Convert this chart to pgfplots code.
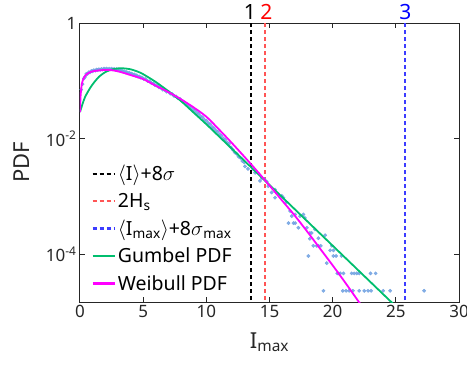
\documentclass[border=0pt]{standalone}
\usepackage{fontspec}
\setmainfont{Noto Sans}
\usepackage{pgfplots}
\pgfplotsset{compat=1.18}
\definecolor{dotblue}{RGB}{110,160,225}
\definecolor{gumbel}{RGB}{0,190,110}
\definecolor{weib}{RGB}{255,0,255}
\definecolor{axgray}{RGB}{38,38,38}
\definecolor{lred}{RGB}{255,85,85}
\definecolor{lblue}{RGB}{60,60,255}

\pgfplotstableread{
x y
0.1 7.079e-2
0.3 0.1096
0.5 0.1318
0.7 0.1413
0.9 0.1479
1.1 0.1531
1.3 0.1567
1.5 0.1585
1.7 0.1603
1.9 0.1622
2.1 0.1622
2.3 0.1622
2.5 0.1622
2.7 0.1603
2.9 0.1585
3.1 0.1549
3.3 0.1514
3.5 0.1462
3.7 0.1413
3.9 0.1380
4.1 0.1334
4.3 0.1288
4.5 0.1245
4.7 0.1189
4.9 0.1148
5.2 0.1072
5.5 9.772e-2
5.8 9.016e-2
6.1 8.222e-2
6.4 7.586e-2
6.7 6.918e-2
7.0 6.457e-2
7.3 5.888e-2
7.6 5.370e-2
7.9 4.898e-2
8.2 4.365e-2
8.5 3.890e-2
8.8 3.467e-2
9.1 3.090e-2
9.4 2.692e-2
9.7 2.344e-2
10.0 2.042e-2
10.3 1.778e-2
10.6 1.514e-2
10.9 1.318e-2
11.2 1.122e-2
11.5 9.550e-3
11.8 8.128e-3
12.1 6.457e-3
12.4 5.495e-3
12.7 4.677e-3
13.0 3.890e-3
0.2 0.088
0.4 0.117
0.6 0.132
0.8 0.140
1.0 0.146
1.2 0.150
1.4 0.153
1.6 0.155
1.8 0.157
2.0 0.158
2.2 0.158
2.4 0.158
2.6 0.157
2.8 0.155
3.0 0.152
3.2 0.149
3.4 0.145
3.6 0.140
3.8 0.136
4.0 0.132
4.2 0.128
4.4 0.123
4.6 0.118
4.8 0.114
5.05 0.108
5.35 0.0995
5.65 0.0915
5.95 0.0840
6.25 0.0770
6.55 0.0705
6.85 0.0650
7.15 0.0600
7.45 0.0548
7.75 0.0500
8.05 0.0451
8.35 0.0402
8.65 0.0358
8.95 0.0319
9.25 0.0281
9.55 0.0245
9.85 0.0213
10.15 0.0186
10.45 0.0160
10.75 0.0138
11.05 0.0119
11.35 0.0101
11.65 0.0086
11.95 0.0071
12.25 0.0058
12.55 0.0049
12.85 0.0041
13.06 3.311e-3
13.3 3.0e-3
13.72 2.951e-3
13.86 2.570e-3
14.25 1.862e-3
14.4 2.089e-3
14.6 1.995e-3
14.78 1.820e-3
14.9 1.514e-3
15.17 1.175e-3
15.44 1.318e-3
15.44 9.550e-4
15.7 1.096e-3
15.97 1.023e-3
16.1 9.550e-4
16.3 7.943e-4
16.63 5.623e-4
16.76 4.571e-4
17.03 4.898e-4
17.42 4.571e-4
17.68 4.898e-4
17.8 4.266e-4
16.5 3.467e-4
16.9 3.467e-4
17.03 3.467e-4
17.28 2.884e-4
17.95 2.884e-4
18.6 2.692e-4
18.2 2.344e-4
18.34 2.344e-4
18.87 1.905e-4
19.4 2.138e-4
18.2 1.862e-4
18.47 1.406e-4
18.74 1.406e-4
18.87 1.406e-4
19.06 1.406e-4
19.93 1.406e-4
19.8 1.172e-4
20.06 1.172e-4
18.08 9.38e-5
20.06 9.38e-5
20.27 9.38e-5
20.7 9.38e-5
19.53 7.03e-5
20.45 4.688e-5
20.37 4.688e-5
20.6 4.688e-5
20.85 4.688e-5
21.5 4.688e-5
21.7 4.688e-5
21.9 4.688e-5
22.1 4.688e-5
23.0 4.688e-5
23.4 4.688e-5
19.27 2.344e-5
20.8 2.344e-5
21.06 2.344e-5
21.3 2.344e-5
21.6 2.344e-5
22.1 2.344e-5
22.5 2.344e-5
22.8 2.344e-5
23.04 2.344e-5
24.0 2.344e-5
24.55 2.344e-5
27.24 2.344e-5
}\empdata

\pgfplotstableread{
x y
0 2.884e-2
0.2 3.981e-2
0.4 5.248e-2
0.7 6.918e-2
1.0 8.710e-2
1.5 0.1175
2.0 0.1413
2.5 0.1567
3.0 0.1641
3.5 0.1641
4.0 0.1585
4.5 0.1462
5.0 0.1303
6.0 9.550e-2
7.0 6.607e-2
8.0 4.467e-2
9.0 2.818e-2
10.0 1.778e-2
11.0 1.096e-2
12.0 6.761e-3
13.0 4.169e-3
14.0 2.570e-3
15.0 1.585e-3
16.0 9.772e-4
17.0 6.026e-4
18.0 3.715e-4
19.0 2.291e-4
20.0 1.413e-4
21.0 8.710e-5
22.0 5.370e-5
23.0 3.311e-5
24.0 2.042e-5
25.0 1.259e-5
}\gumbeldata

\pgfplotstableread{
x y
0 2.884e-2
0.05 5.623e-2
0.15 8.913e-2
0.3 0.1122
0.5 0.1288
0.75 0.1396
1.0 0.1462
1.5 0.1514
2.0 0.1542
2.5 0.1531
3.0 0.1462
3.5 0.1365
4.0 0.1259
5.0 0.1072
6.0 8.22e-2
7.0 6.383e-2
8.0 4.786e-2
9.0 3.467e-2
10.0 2.399e-2
11.0 1.445e-2
12.0 8.51e-3
13.0 4.90e-3
14.0 2.786e-3
15.0 1.549e-3
16.0 8.51e-4
17.0 4.677e-4
18.0 2.455e-4
19.0 1.259e-4
20.0 6.457e-5
21.0 3.236e-5
22.0 1.585e-5
22.2 1.380e-5
}\weibulldata

\begin{document}
\begin{tikzpicture}
\begin{axis}[
  scale only axis, width=379pt, height=279pt,
  xmin=0, xmax=30, ymode=log, ymin=1.5e-5, ymax=1,
  xtick={0,5,...,30},
  ytick={1e-4,1e-2,1},
  yticklabels={10\textsuperscript{-4},10\textsuperscript{-2},1},
  yminorticks=false,
  tick align=inside, tick pos=both, major tick length=5pt,
  axis line style={axgray, line width=1pt},
  every tick/.style={axgray, line width=1pt},
  /pgf/number format/assume math mode=true,
  ticklabel style={font=\fontsize{17}{20}\selectfont, text=axgray},
  xlabel={I\textsubscript{max}}, ylabel={PDF},
  label style={font=\fontsize{22}{26}\selectfont, text=axgray},
  xlabel style={yshift=-8pt},
  ylabel style={yshift=10pt},
  clip mode=individual,
  legend cell align=left,
  legend style={at={(0.022,0.505)}, anchor=north west, draw=none, fill=none,
    font=\fontsize{19.5}{22}\selectfont, row sep=7pt},
  legend image post style={xscale=1.3},
]
\addlegendimage{black, line width=2.2pt, dash pattern=on 4pt off 3pt}
\addlegendentry{$\langle$I$\rangle$+8$\sigma$}
\addlegendimage{lred, line width=2.2pt, dash pattern=on 4pt off 3pt}
\addlegendentry{2H\textsubscript{s}}
\addlegendimage{lblue, line width=2.2pt, dash pattern=on 4pt off 3pt}
\addlegendentry{$\langle$I\textsubscript{max}$\rangle$+8$\sigma$\textsubscript{max}}
\addlegendimage{gumbel, line width=2.2pt}
\addlegendentry{Gumbel PDF}
\addlegendimage{weib, line width=2.2pt}
\addlegendentry{Weibull PDF}
\addplot[black, line width=2.1pt, dash pattern=on 4pt off 3pt, forget plot] coordinates {(13.5,1e-6) (13.5,1)};
\addplot[lred, line width=2.1pt, dash pattern=on 4pt off 3pt, forget plot] coordinates {(14.65,1e-6) (14.65,1)};
\addplot[lblue, line width=2.1pt, dash pattern=on 4pt off 3pt, forget plot] coordinates {(25.75,1e-6) (25.75,1)};
\addplot[only marks, mark=*, mark size=1.7pt, color=dotblue, mark options={draw=dotblue, fill=dotblue, opacity=0.85}, forget plot] table {\empdata};
\addplot[gumbel, line width=1.8pt, smooth, forget plot] table {\gumbeldata};
\addplot[weib, line width=1.8pt, smooth, forget plot] table {\weibulldata};
\node[font=\fontsize{21}{25}\selectfont, anchor=south, inner sep=0pt, text=black] at (axis cs:13.45,1) [yshift=3pt] {1};
\node[font=\fontsize{21}{25}\selectfont, anchor=south, inner sep=0pt, text=red] at (axis cs:14.75,1) [yshift=3pt] {2};
\node[font=\fontsize{21}{25}\selectfont, anchor=south, inner sep=0pt, text=blue] at (axis cs:25.75,1) [yshift=3pt] {3};
\end{axis}
\pgfresetboundingbox
\path[use as bounding box] ([shift={(-80pt,-68pt)}]current axis.south west) rectangle ([shift={(8pt,23pt)}]current axis.north east);
\end{tikzpicture}
\end{document}
